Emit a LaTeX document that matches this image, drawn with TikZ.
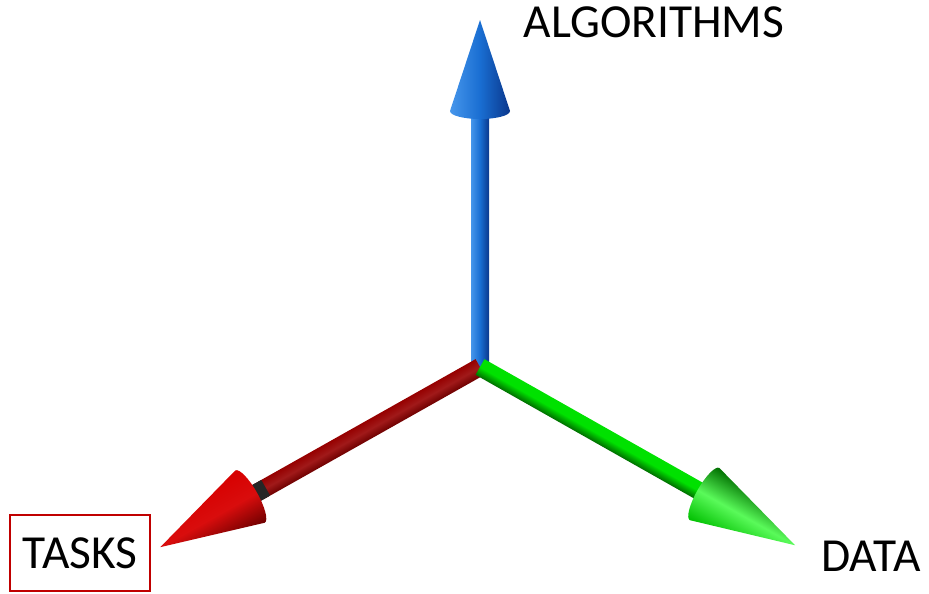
\documentclass[tikz,border=0pt]{standalone}
\usepackage{fontspec}
\setmainfont{Carlito}
\usetikzlibrary{calc}
\definecolor{axblue}{RGB}{25,110,210}
\definecolor{axbluelight}{RGB}{70,150,235}
\definecolor{axbluedark}{RGB}{10,55,140}
\definecolor{axred}{RGB}{215,0,0}
\definecolor{axredshaft}{RGB}{150,0,0}
\definecolor{axreddark}{RGB}{110,0,0}
\definecolor{axgreen}{RGB}{0,225,0}
\definecolor{axgreenlight}{RGB}{90,250,90}
\definecolor{axgreendark}{RGB}{0,110,0}
\definecolor{boxred}{RGB}{192,0,0}

\begin{document}
\begin{tikzpicture}[x=0.02cm,y=0.02cm,
  axlabel/.style={font=\fontsize{27}{32}\selectfont,inner sep=0pt}]
  \useasboundingbox (0,0) rectangle (929,593);
  \coordinate (origin) at (480,226);

  % blue axis (up)
  \begin{scope}[transform canvas={shift={(origin)},rotate=90}]
    \shade[top color=axbluelight,bottom color=axbluedark,middle color=axblue] (0,-9) rectangle (262,9);
    \shade[top color=axbluelight,bottom color=axbluedark,middle color=axblue]
      (256,30) -- (347,0) -- (256,-30) arc[start angle=-90,end angle=-270,x radius=8,y radius=30] -- cycle;
  \end{scope}

  % red axis (down left)
  \begin{scope}[transform canvas={shift={(origin)},rotate=209.4}]
    \shade[top color=axreddark,bottom color=axredshaft,middle color=axredshaft!90!white] (0,-9) rectangle (268,9);
    \fill[black!85] (246,-9) rectangle (262,9);
    \shade[top color=axreddark,bottom color=axred,middle color=axred!95!white]
      (264,30) -- (367,0) -- (264,-30) arc[start angle=-90,end angle=-270,x radius=8,y radius=30] -- cycle;
  \end{scope}

  % green axis (down right)
  \begin{scope}[transform canvas={shift={(origin)},rotate=-29.5}]
    \shade[top color=axgreen,bottom color=axgreendark,middle color=axgreen] (0,-9) rectangle (262,9);
    \shade[top color=axgreendark,bottom color=axgreen!85!black,middle color=axgreenlight]
      (258,30) -- (362,0) -- (258,-30) arc[start angle=-90,end angle=-270,x radius=8,y radius=30] -- cycle;
  \end{scope}

  \node[axlabel] (alg) at (654,571) {ALGORITHMS};
  \node[axlabel,draw=boxred,line width=1.1pt,minimum width=2.8cm,minimum height=1.52cm] (tasks) at (80,40) {TASKS};
  \node[axlabel] (data) at (871,37) {DATA};
\end{tikzpicture}
\end{document}
